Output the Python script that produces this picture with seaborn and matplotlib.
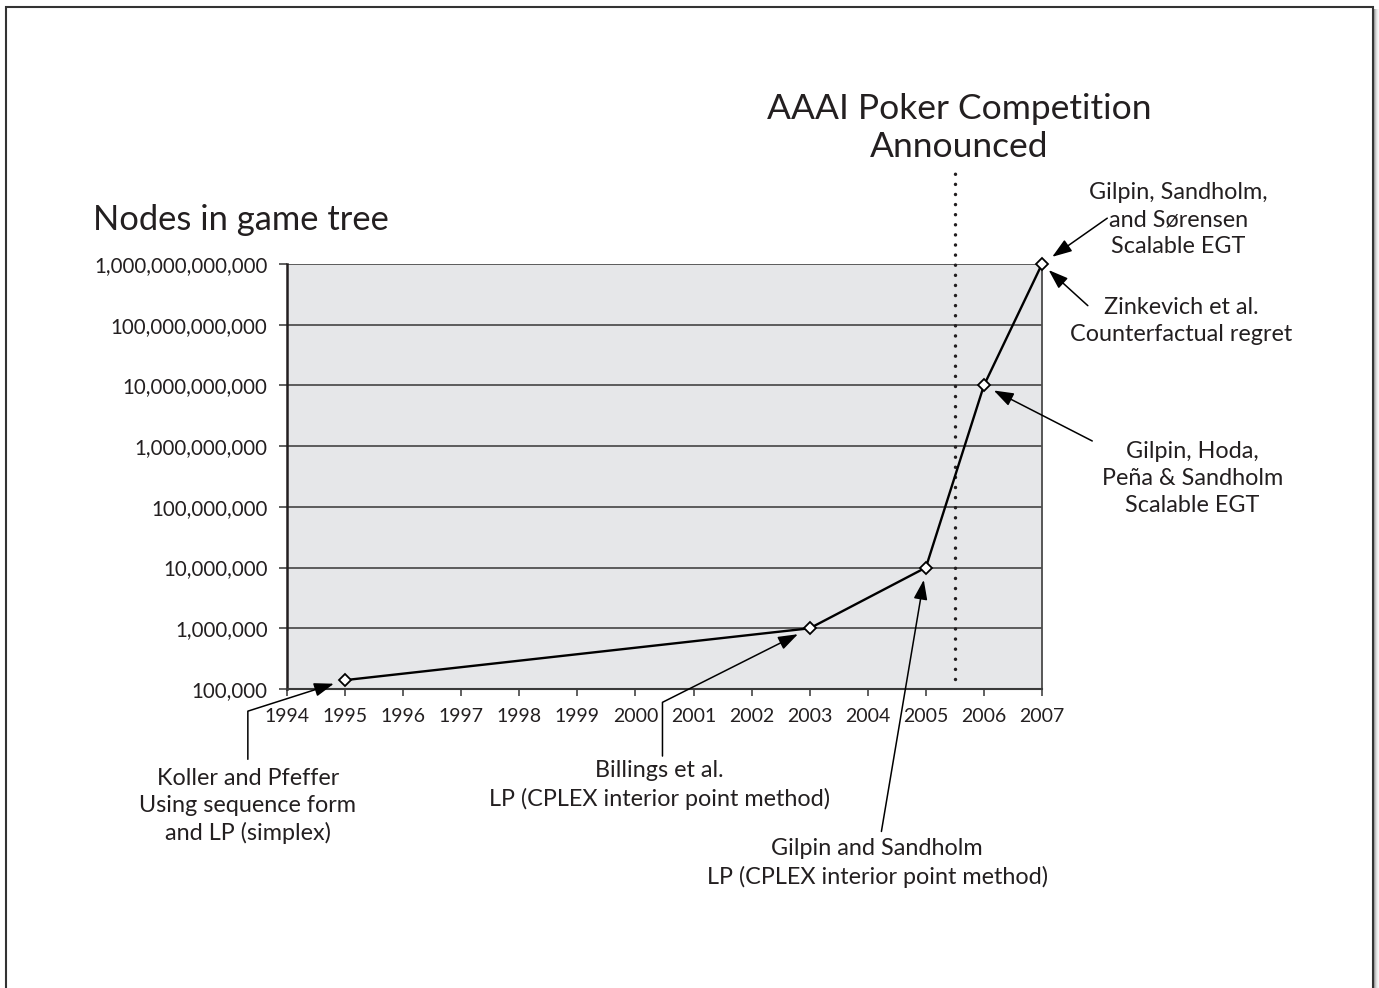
import matplotlib
matplotlib.use('Agg')
import matplotlib.pyplot as plt
from matplotlib.patches import Rectangle
import seaborn as sns

# data
years = [1995, 2003, 2005, 2006, 2007]
nodes = [1.4e5, 1e6, 1e7, 1e10, 1e12]
year_ticks = list(range(1994, 2008))
node_ticks = [10 ** k for k in range(5, 13)]
competition_year = 2005.5

label_texts = [
    'Koller and Pfeffer\nUsing sequence form\nand LP (simplex)',
    'Billings et al.\nLP (CPLEX interior point method)',
    'Gilpin and Sandholm\nLP (CPLEX interior point method)',
    'Gilpin, Hoda,\nPeña & Sandholm\nScalable EGT',
    'Zinkevich et al.\nCounterfactual regret',
    'Gilpin, Sandholm,\nand Sørensen\nScalable EGT',
]
label_years = [1995, 2003, 2005, 2006, 2007, 2007]

INK = '#231f20'

sns.set_theme(style='white')
plt.rcParams['font.family'] = ['Lato', 'DejaVu Sans']
plt.rcParams['text.color'] = INK

fig = plt.figure(figsize=(13.79, 9.88), dpi=100)
ax = fig.add_axes([287 / 1379, 1 - 689 / 988, (1042 - 287) / 1379, (689 - 264) / 988])
ax.set_facecolor('#e6e7e9')

ax.set_yscale('log')
ax.set_ylim(1e5, 1e12)
ax.set_xlim(1994, 2007)

for v in node_ticks[1:]:
    ax.axhline(v, color='#444444', lw=1.2, zorder=1)

sns.lineplot(x=years, y=nodes, ax=ax, color='black', lw=1.7, marker='D',
             markersize=6.6, markerfacecolor='white', markeredgecolor='black',
             markeredgewidth=1.3, zorder=5, clip_on=False)

# dotted marker for the competition announcement
ax.plot([competition_year, competition_year], [1.45e5, 10 ** 13.6], color=INK,
        lw=2.5, ls=(0, (0.01, 2.9)), dash_capstyle='round', clip_on=False, zorder=4)
ax.annotate('AAAI Poker Competition\nAnnounced', xy=(competition_year, 1e12),
            xytext=(3, 123), textcoords='offset points', ha='center', va='top',
            fontsize=25.5, linespacing=1.22, annotation_clip=False)

ax.set_yticks(node_ticks)
ax.set_yticklabels(['{:,}'.format(v) for v in node_ticks])
ax.minorticks_off()
ax.set_xticks(year_ticks)
ax.set_xticklabels([str(y) for y in year_ticks])
ax.tick_params(axis='y', length=6, width=1.2, color='#444', pad=8, labelsize=14.8, labelcolor=INK, left=True)
ax.tick_params(axis='x', length=5, width=1.2, color='#444', pad=9, labelsize=14, labelcolor=INK, bottom=True)

for side in ['left', 'bottom', 'right']:
    ax.spines[side].set_visible(True)
ax.spines['left'].set_color(INK)
ax.spines['left'].set_linewidth(1.8)
ax.spines['bottom'].set_color('#3a3a3a')
ax.spines['bottom'].set_linewidth(1.5)
ax.spines['right'].set_color('#4a4a4a')
ax.spines['right'].set_linewidth(1.3)
ax.spines['top'].set_visible(False)

ax.text(-0.257, 1.103, 'Nodes in game tree', transform=ax.transAxes, fontsize=24.8, ha='left', va='center')

# labels and arrows, offsets in points from the data point
text_offsets = [(-70, -63), (-108, -95), (-35, -195), (150, -40), (100, -24), (98, 59)]
tail_offsets = [(-70, -57), (-106, -92), (-32, -190), (78, -40), (33, -30), (47, 33)]
connections = ['angle,angleA=90,angleB=17.7,rad=0', 'angle,angleA=90,angleB=26.7,rad=0',
               'arc3', 'arc3', 'arc3', 'arc3']
shrinks = [8.5, 9.5, 9, 8, 6.5, 9]
lookup = dict(zip(years, nodes))
for txt, yr, toff, aoff, conn, shr in zip(label_texts, label_years, text_offsets,
                                          tail_offsets, connections, shrinks):
    pt = (yr, lookup[yr])
    ax.annotate(txt, xy=pt, xytext=toff, textcoords='offset points', ha='center',
                va='top', fontsize=16.8, linespacing=1.36, annotation_clip=False)
    ax.annotate('', xy=pt, xytext=aoff, textcoords='offset points', annotation_clip=False,
                arrowprops=dict(arrowstyle='-|>,head_length=1.0,head_width=0.35', color='black',
                                lw=1.1, shrinkA=0, shrinkB=shr, connectionstyle=conn))

# page frame with a soft shadow on the right
for i, a in enumerate([0.55, 0.35, 0.2, 0.1, 0.05]):
    fig.patches.append(Rectangle(((1374 + i) / 1379, 0), 1 / 1379, 1 - 9 / 988,
                                 transform=fig.transFigure, color='#555', alpha=a, lw=0))
fig.patches.append(Rectangle((6 / 1379, -0.05), 1367 / 1379, 1.05 - 7 / 988,
                             transform=fig.transFigure, fill=False, edgecolor='#333', lw=1.5))

fig.savefig('out.png', dpi=100, facecolor='white')
